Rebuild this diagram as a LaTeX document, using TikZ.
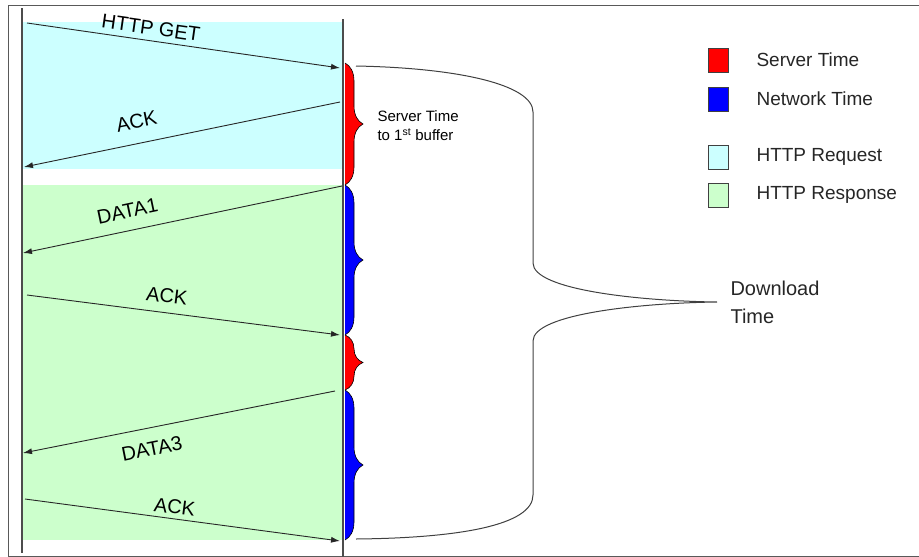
\documentclass[tikz,border=0pt]{standalone}
\usepackage{fontspec}
\setmainfont{Liberation Sans}
\usetikzlibrary{arrows.meta,decorations.pathreplacing}

\definecolor{reqcyan}{HTML}{CCFFFF}
\definecolor{respgreen}{HTML}{CCFFCC}

\begin{document}
\begin{tikzpicture}[x=1pt,y=-1pt,
    msg/.style={draw=black!85, line width=0.9pt, -{Latex[length=9pt,width=6pt]}},
    msglabel/.style={font=\fontsize{20}{24}\selectfont, sloped},
    timebrace/.style={draw=black, line width=0.6pt, decorate,
      decoration={brace, amplitude=18pt}},
    keybox/.style={draw=black!75, line width=0.8pt, minimum width=20pt,
      minimum height=24pt, inner sep=0pt},
    keytext/.style={anchor=west, font=\fontsize{19}{23}\selectfont, text=black!85}]

  \useasboundingbox (0,0) rectangle (919,557);

  % frame
  \draw[black!65, line width=1pt] (919,5) -- (8,5) -- (8,556) -- (919,556);

  % request and response phases
  \fill[reqcyan] (23,22) rectangle (343,169);
  \fill[respgreen] (23,185) rectangle (343,540);

  % client and server lines
  \draw[black!70, line width=1.5pt] (22,8) -- (22,553);
  \draw[black!70, line width=1.5pt] (343,19) -- (343,557);

  % message end points
  \coordinate (c1) at (27,23);   \coordinate (s1) at (340,68);
  \coordinate (s2) at (340,102); \coordinate (c2) at (24,167);
  \coordinate (s3) at (342,186); \coordinate (c3) at (23,253);
  \coordinate (c4) at (27,295);  \coordinate (s4) at (340,335);
  \coordinate (s5) at (335,391); \coordinate (c5) at (23,453);
  \coordinate (c6) at (25,499);  \coordinate (s6) at (340,541);

  % messages
  \foreach \a/\b/\txt/\p/\side/\d in {
      c1/s1/HTTP GET/0.39/above/2,
      s2/c2/ACK/0.63/above/11,
      s3/c3/DATA1/0.66/above/9,
      c4/s4/ACK/0.44/above/6,
      s5/c5/DATA3/0.60/below/10,
      c6/s6/ACK/0.47/above/1} {
    \draw[msg] (\a) -- node[msglabel, pos=\p, \side=\d pt] (lbl\a) {\txt} (\b);
  }

  % server / network time braces
  \foreach \top/\bot/\col in {63/185/red, 185/335/blue, 335/390/red, 390/540/blue} {
    \path[timebrace, fill=\col] (345,\top) -- (345,\bot);
  }
  \node[anchor=west, align=left, font=\fontsize{15}{19}\selectfont] (firstbuf)
    at (374,126) {Server Time\\to 1\textsuperscript{st} buffer};

  % download time brace
  \draw[black!75, line width=1pt] (356,66) .. controls (460,68) and (533,85) .. (533,112)
    -- (533,263) .. controls (533,290) and (640,301) .. (717,302)
    .. controls (640,303) and (533,314) .. (533,341)
    -- (533,495) .. controls (533,525) and (460,538) .. (356,539);
  \node[anchor=west, align=left, font=\fontsize{20}{28}\selectfont, text=black!85]
    (download) at (727,302) {Download\\Time};

  % legend
  \foreach \col/\ypos/\txt [count=\i] in {
      red/60/Server Time,
      blue/99/Network Time,
      reqcyan/157/HTTP Request,
      respgreen/195/HTTP Response} {
    \node[keybox, fill=\col] (key\i) at (718,\ypos) {};
    \node[keytext] (keylabel\i) at (753,\ypos) {\txt};
  }
\end{tikzpicture}
\end{document}
